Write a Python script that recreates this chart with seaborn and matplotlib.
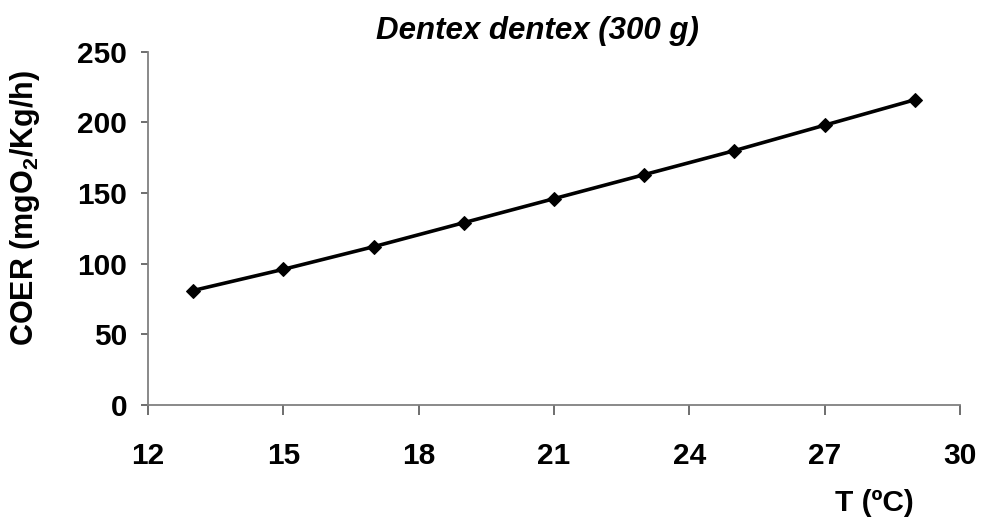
import matplotlib
matplotlib.use("Agg")
import matplotlib.pyplot as plt
import seaborn as sns
import pandas as pd

temperature = [13, 15, 17, 19, 21, 23, 25, 27, 29]
coer = [81, 96, 112, 129, 146, 163, 180, 198, 216]
x_ticks = [12, 15, 18, 21, 24, 27, 30]
y_ticks = [0, 50, 100, 150, 200, 250]

sns.set_theme(style="white")
plt.rcParams['font.family'] = ['Liberation Sans', 'DejaVu Sans']
plt.rcParams['mathtext.fontset'] = 'custom'
plt.rcParams['mathtext.rm'] = 'Liberation Sans:bold'
plt.rcParams['mathtext.it'] = 'Liberation Sans:bold'
plt.rcParams['mathtext.bf'] = 'Liberation Sans:bold'
plt.rcParams['text.color'] = 'black'
plt.rcParams['xtick.color'] = 'black'
plt.rcParams['ytick.color'] = 'black'

df = pd.DataFrame({"T": temperature, "COER": coer})

fig = plt.figure(figsize=(9.82, 5.19), dpi=100)
ax = fig.add_axes([148/982, 1-405/519, (960-148)/982, (405-51.7)/519])

sns.lineplot(data=df, x="T", y="COER", ax=ax, color="black", linewidth=2.6,
             marker="D", markersize=7.5, markeredgecolor="black", markerfacecolor="black")

ax.set_xlim(12, 30)
ax.set_ylim(0, 250)
ax.set_xticks(x_ticks)
ax.set_yticks(y_ticks)
ax.set_xticklabels([str(v) for v in x_ticks], fontsize=21.5, fontweight="bold", color="black")
ax.set_yticklabels([str(v) for v in y_ticks], fontsize=21.5, fontweight="bold", color="black")

for s in ["top", "right"]:
    ax.spines[s].set_visible(False)
for s in ["left", "bottom"]:
    ax.spines[s].set_color("#808080")
    ax.spines[s].set_linewidth(1.3)

ax.tick_params(axis="x", direction="out", length=7, width=1.2, color="#555555", pad=20, bottom=True)
ax.tick_params(axis="y", direction="out", length=5, width=1.2, color="#555555", pad=10, left=True)

ax.set_xlabel("")
ax.set_ylabel("")
fig.text(874/982, 1-503/519, "T (ºC)", fontsize=21.5, fontweight="bold", ha="center", va="center")
fig.text(25/982, 1-208/519, "COER (mgO$_{2}$/Kg/h)", fontsize=22, fontweight="bold",
         ha="center", va="center", rotation=90)
fig.text(537/982, 1-31/519, "Dentex dentex (300 g)", fontsize=22.5, fontweight="bold",
         fontstyle="italic", ha="center", va="center")

fig.savefig("out.png", dpi=100)
